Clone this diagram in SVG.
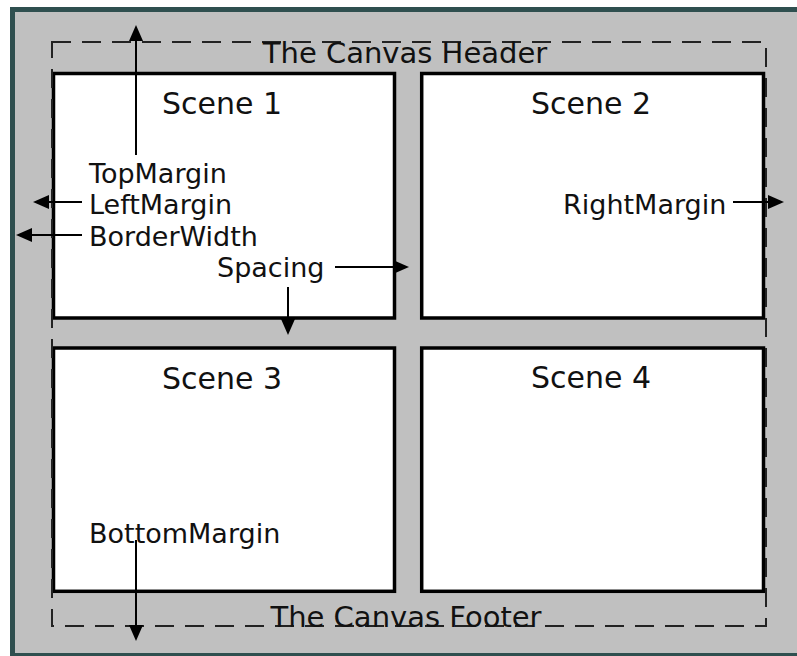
<svg xmlns="http://www.w3.org/2000/svg" width="797" height="656" viewBox="0 0 797 656">
<style>
text{font-family:"DejaVu Sans","Noto Sans",sans-serif;fill:#111}
.lbl{font-size:27px}
.scn{font-size:30px;text-anchor:middle}
.ttl{font-size:29px;text-anchor:middle}
.box{fill:#fff;stroke:#000;stroke-width:3.5}
.arr{stroke:#000;stroke-width:2;fill:none;marker-end:url(#ah)}
</style>
<defs>
<marker id="ah" markerUnits="userSpaceOnUse" markerWidth="16" markerHeight="16" viewBox="0 0 16 16" refX="12" refY="8" orient="auto">
<path d="M0,1 L16,8 L0,15 z" fill="#000"/>
</marker>
</defs>
<rect x="0" y="0" width="797" height="656" fill="#fff"/>
<rect x="10" y="7" width="787" height="649" fill="#2f4f4f"/>
<rect x="15" y="12" width="782" height="641" fill="#c0c0c0"/>
<g id="scene1"><rect class="box" x="53.5" y="73.5" width="341" height="244.5"/><text class="scn" x="222" y="114">Scene 1</text></g>
<g id="scene2"><rect class="box" x="421.7" y="73.5" width="341.8" height="244.5"/><text class="scn" x="591" y="114">Scene 2</text></g>
<g id="scene3"><rect class="box" x="53.5" y="348" width="341" height="243.3"/><text class="scn" x="222" y="389">Scene 3</text></g>
<g id="scene4"><rect class="box" x="421.7" y="348" width="341.8" height="243.3"/><text class="scn" x="591" y="388">Scene 4</text></g>
<g id="canvas-frame">
<rect x="52" y="42" width="714" height="584" fill="none" stroke="#222" stroke-width="2" stroke-dasharray="19 11"/>
<text class="ttl" x="405" y="63">The Canvas Header</text>
<text class="ttl" x="406" y="627">The Canvas Footer</text>
</g>
<g id="labels">
<text class="lbl" x="89" y="183">TopMargin</text>
<text class="lbl" x="89" y="214">LeftMargin</text>
<text class="lbl" x="89" y="246">BorderWidth</text>
<text class="lbl" x="217" y="277">Spacing</text>
<text class="lbl" x="563" y="214">RightMargin</text>
<text class="lbl" x="89" y="543">BottomMargin</text>
</g>
<g id="connectors">
<line class="arr" x1="136" y1="155" x2="136" y2="29"/>
<line class="arr" x1="82" y1="202" x2="37" y2="202"/>
<line class="arr" x1="82" y1="235" x2="20" y2="235"/>
<line class="arr" x1="335" y1="267" x2="405" y2="267"/>
<line class="arr" x1="288" y1="287" x2="288" y2="331"/>
<line class="arr" x1="733" y1="202" x2="780" y2="202"/>
<line class="arr" x1="136" y1="540" x2="136" y2="637"/>
</g>
</svg>
